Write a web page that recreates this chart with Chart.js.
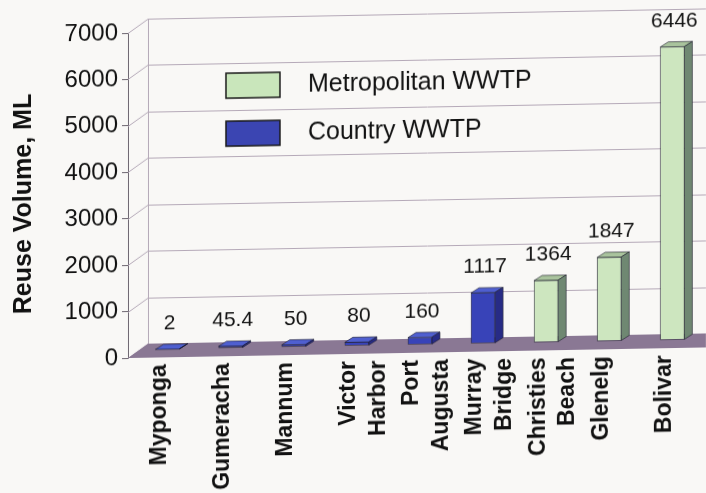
<!DOCTYPE html>
<html>
<head>
<meta charset="utf-8">
<script src="https://cdn.jsdelivr.net/npm/chart.js@4/dist/chart.umd.min.js"></script>
<style>
  html, body { margin: 0; padding: 0; background: #f9f8f6; overflow: hidden; }
  /* the 3-D view leans slightly: floor and labels rise towards the right */
  #wrap { width: 706px; height: 493px; transform: skewY(-1.05deg); transform-origin: 130px 0; }
  canvas { display: block; }
</style>
</head>
<body>
<div id="wrap"><canvas id="chart" width="706" height="493"></canvas></div>
<script>
// Treatment plants (multi-word names are split over two lines)
const categories = [
  ['Myponga'], ['Gumeracha'], ['Mannum'], ['Victor', 'Harbor'], ['Port', 'Augusta'],
  ['Murray', 'Bridge'], ['Christies', 'Beach'], ['Glenelg'], ['Bolivar']
];
// Reuse volume per plant, ML
const reuseVolume = [2, 45.4, 50, 80, 160, 1117, 1364, 1847, 6446];
// Plant type per plant
const plantType = ['Country', 'Country', 'Country', 'Country', 'Country', 'Country',
                   'Metropolitan', 'Metropolitan', 'Metropolitan'];
const seriesNames = ['Metropolitan WWTP', 'Country WWTP'];
const yTicks = [0, 1000, 2000, 3000, 4000, 5000, 6000, 7000];
const yTitle = 'Reuse Volume, ML';

const FONT = '"Liberation Sans", Arial, Helvetica, sans-serif';

const metroValues = reuseVolume.map((v, i) => plantType[i] === 'Metropolitan' ? v : null);
const countryValues = reuseVolume.map((v, i) => plantType[i] === 'Country' ? v : null);

// colours for front / top / side faces
const faces = {
  metro:   { front: '#cde6bf', top: '#a9c39d', side: '#6f8872', legend: '#c9e6bb' },
  country: { front: '#3843b8', top: '#4f5fd0', side: '#272b86', legend: '#3b45b2' }
};

// depth of the room (left wall / floor) and of each column
const WALL_DX = 20, WALL_DY = -14;
const BAR_SHIFT_X = 8, BAR_SHIFT_Y = -8, BAR_K = 0.98;
const BAR_DX = 8, BAR_DY = -5;

function barPoint(chart, x, y) {
  const y0 = chart.scales.y.getPixelForValue(0);
  return [x + BAR_SHIFT_X, y0 + (y - y0) * BAR_K + BAR_SHIFT_Y];
}

const room3d = {
  id: 'room3d',
  beforeDatasetsDraw(chart) {
    const { ctx, chartArea: a, scales: { y } } = chart;
    const y0 = y.getPixelForValue(0);
    ctx.save();
    // back-wall gridlines with their slanted left-wall segments
    ctx.strokeStyle = '#b5a9b8';
    ctx.lineWidth = 1;
    yTicks.forEach(v => {
      const py = Math.round(y.getPixelForValue(v)) + 0.5;
      ctx.beginPath();
      ctx.moveTo(a.left, py);
      ctx.lineTo(a.left + WALL_DX, py + WALL_DY);
      ctx.lineTo(a.right + WALL_DX + 30, py + WALL_DY);
      ctx.stroke();
    });
    // back-left corner edge
    ctx.beginPath();
    ctx.moveTo(a.left + WALL_DX + 0.5, y0 + WALL_DY);
    ctx.lineTo(a.left + WALL_DX + 0.5, y.getPixelForValue(7000) + WALL_DY);
    ctx.stroke();
    // floor
    ctx.fillStyle = '#8a7894';
    ctx.beginPath();
    ctx.moveTo(a.left, y0);
    ctx.lineTo(a.left + WALL_DX, y0 + WALL_DY);
    ctx.lineTo(a.right + WALL_DX + 30, y0 + WALL_DY);
    ctx.lineTo(a.right + 30, y0);
    ctx.closePath();
    ctx.fill();
    ctx.restore();

    // columns sit partway back on the floor
    ctx.save();
    ctx.translate(BAR_SHIFT_X, BAR_SHIFT_Y);
    ctx.translate(0, y0);
    ctx.scale(1, BAR_K);
    ctx.translate(0, -y0);
  },
  afterDatasetsDraw(chart) {
    const { ctx } = chart;
    ctx.restore();
    ctx.save();
    chart.data.datasets.forEach((ds, di) => {
      const meta = chart.getDatasetMeta(di);
      const col = di === 0 ? faces.metro : faces.country;
      meta.data.forEach((bar, i) => {
        const v = ds.data[i];
        if (v == null) return;
        const half = bar.width / 2;
        const [L, T] = barPoint(chart, bar.x - half, bar.y);
        const [R, B] = barPoint(chart, bar.x + half, bar.base);
        ctx.lineWidth = 0.8;
        ctx.strokeStyle = 'rgba(25,25,40,0.75)';
        // top face
        ctx.fillStyle = col.top;
        ctx.beginPath();
        ctx.moveTo(L, T);
        ctx.lineTo(L + BAR_DX, T + BAR_DY);
        ctx.lineTo(R + BAR_DX, T + BAR_DY);
        ctx.lineTo(R, T);
        ctx.closePath();
        ctx.fill();
        ctx.stroke();
        // side face
        ctx.fillStyle = col.side;
        ctx.beginPath();
        ctx.moveTo(R, T);
        ctx.lineTo(R + BAR_DX, T + BAR_DY);
        ctx.lineTo(R + BAR_DX, B + BAR_DY);
        ctx.lineTo(R, B);
        ctx.closePath();
        ctx.fill();
        ctx.stroke();
        // value label
        ctx.fillStyle = '#111';
        ctx.font = '21px ' + FONT;
        ctx.textAlign = 'center';
        ctx.textBaseline = 'middle';
        ctx.fillText(String(v), (L + R) / 2 + 2, T - 26);
      });
    });
    ctx.restore();
  },
  afterDraw(chart) {
    const { ctx } = chart;
    ctx.save();
    // axis title
    ctx.fillStyle = '#111';
    ctx.font = 'bold 25px ' + FONT;
    ctx.textAlign = 'center';
    ctx.textBaseline = 'middle';
    ctx.translate(24, 202);
    ctx.rotate(-Math.PI / 2);
    ctx.fillText(yTitle, 0, 0);
    ctx.restore();

    // legend
    ctx.save();
    const rows = [
      { text: seriesNames[0], color: faces.metro.legend, y: 75 },
      { text: seriesNames[1], color: faces.country.legend, y: 123 }
    ];
    rows.forEach(r => {
      ctx.fillStyle = r.color;
      ctx.fillRect(226, r.y, 54, 25);
      ctx.lineWidth = 1.5;
      ctx.strokeStyle = '#1a1a1a';
      ctx.strokeRect(226, r.y, 54, 25);
      ctx.fillStyle = '#111';
      ctx.font = '25px ' + FONT;
      ctx.textAlign = 'left';
      ctx.textBaseline = 'middle';
      ctx.fillText(r.text, 308, r.y + 13);
    });
    ctx.restore();
  }
};

new Chart(document.getElementById('chart'), {
  type: 'bar',
  data: {
    labels: categories,
    datasets: [
      { label: seriesNames[0], data: metroValues, backgroundColor: faces.metro.front,
        borderColor: 'rgba(25,25,40,0.75)', borderWidth: 0.8, borderSkipped: false },
      { label: seriesNames[1], data: countryValues, backgroundColor: faces.country.front,
        borderColor: 'rgba(25,25,40,0.75)', borderWidth: 0.8, borderSkipped: false }
    ]
  },
  options: {
    responsive: false,
    animation: false,
    devicePixelRatio: 1,
    layout: { padding: { top: 33, right: 10, left: 0, bottom: 0 } },
    datasets: { bar: { grouped: false, categoryPercentage: 1, barThickness: 24 } },
    plugins: { legend: { display: false }, tooltip: { enabled: false } },
    scales: {
      x: {
        offset: true,
        grid: { display: false, drawTicks: false },
        border: { display: false },
        ticks: {
          autoSkip: false, minRotation: 90, maxRotation: 90, padding: 7,
          color: '#111', font: { family: FONT, size: 23, weight: 'bold', lineHeight: 1.3 }
        },
        afterFit(s) { s.height = 135; }
      },
      y: {
        min: 0, max: 7000,
        afterBuildTicks(s) { s.ticks = yTicks.map(v => ({ value: v })); },
        grid: { drawOnChartArea: false, drawTicks: true, tickLength: 6, color: '#6d6670' },
        border: { display: true, color: '#6d6670', width: 1 },
        ticks: {
          padding: 4, color: '#111', font: { family: FONT, size: 24 },
          callback: v => String(v)
        },
        title: { display: false },
        afterFit(s) { s.width = 128; }
      }
    }
  },
  plugins: [room3d]
});
</script>
</body>
</html>
